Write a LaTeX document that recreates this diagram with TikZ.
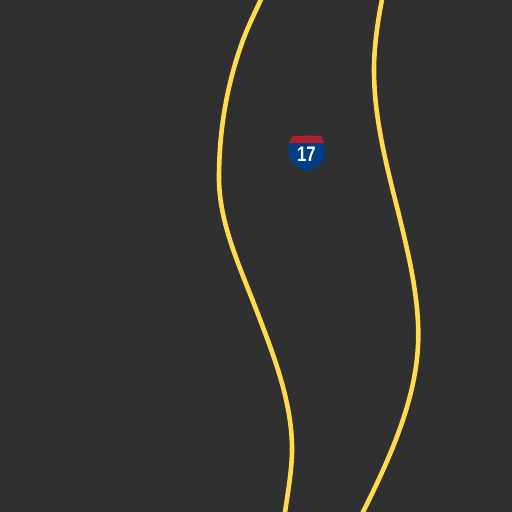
\documentclass[tikz,border=0pt]{standalone}
\usepackage{fontspec}
\setmainfont{Liberation Sans}
\definecolor{bgc}{HTML}{303030}
\definecolor{roadc}{HTML}{FFDB4D}
\definecolor{shieldb}{HTML}{003F87}
\definecolor{shieldr}{HTML}{AF1E2D}
\tikzset{road/.style={draw=roadc,line width=4.6pt,line cap=butt,line join=round}}
\begin{document}
\begin{tikzpicture}[x=1pt,y=-1pt]
\useasboundingbox (0,0) rectangle (512,512);
\fill[bgc] (0,0) rectangle (512,512);
\draw[road] (262,-3) .. controls (255.8,11) and (248.5,25.2) .. (243.3,39.3)
  .. controls (226.3,85.5) and (219,132) .. (219,178)
  .. controls (219,222) and (239,265) .. (256,309)
  .. controls (274,356) and (292,402) .. (292,449)
  .. controls (292,471) and (287.5,494) .. (284.5,516);
\draw[road] (382.5,-3) .. controls (377.7,21) and (374,46) .. (374,70)
  .. controls (374,117) and (386,164) .. (398,211)
  .. controls (408,252) and (418.3,294) .. (418.3,335)
  .. controls (418.3,394) and (392.5,453) .. (363,512)
  -- (361,516);
\fill[shieldb] (289,143) -- (325,143) -- (325,154) .. controls (325,162) and (316,168) .. (307,171) .. controls (298,168) and (289,162) .. (289,154) -- cycle;
\fill[shieldr] (289.2,143) -- (292.5,136) -- (294,135.5) -- (302,136) -- (307,135.3) -- (312,136) -- (320,135.5) -- (321.5,136) -- (324.3,143) -- cycle;
\node[text=white,font=\bfseries\fontsize{21}{21}\selectfont,inner sep=0pt,xscale=0.8] (num) at (306.5,154.7) {17};
\end{tikzpicture}
\end{document}
